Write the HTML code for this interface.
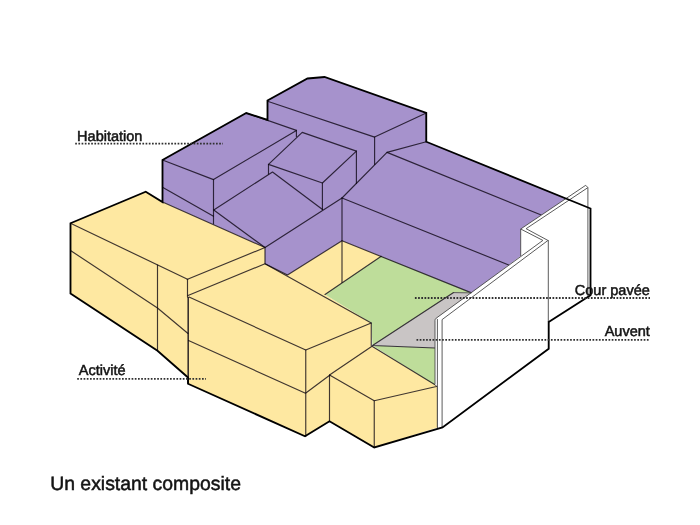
<!DOCTYPE html>
<html lang="fr">
<head>
<meta charset="utf-8">
<title>Un existant composite</title>
<style>
html,body{margin:0;padding:0;background:#fff;}
body{width:700px;height:525px;overflow:hidden;}
svg{display:block;}
text{font-family:"Liberation Sans",Arial,sans-serif;fill:#141414;stroke:#141414;stroke-width:0.5;text-rendering:geometricPrecision;}
.t{stroke:#0a0410;stroke-opacity:.78;stroke-width:1.15;fill:none;stroke-linejoin:round;stroke-linecap:round;}
.k{stroke:#000;stroke-width:1.85;fill:none;stroke-linejoin:miter;stroke-linecap:butt;}
.w{stroke:#4a4a4a;stroke-width:0.9;fill:none;stroke-linejoin:round;}
.d{stroke:#303030;stroke-width:1.8;stroke-dasharray:1.7 1.5;fill:none;}
</style>
</head>
<body>
<svg width="700" height="525" viewBox="0 0 700 525">
<rect width="700" height="525" fill="#fff"/>

<!-- fills -->
<g id="fills" stroke="none">
<polygon fill="#a692cc" points="162.5,160 246.25,113 267.5,120 267.5,100.5 307.5,78.5 324.5,77 426.25,113 426.25,141.75 567.5,198.75 520.7,229.5 520.7,256 471.5,292.9 342,240.75 287.5,275 265,263.75 265,247.5 162.5,202"/>
<polygon fill="#fee8a1" points="70.5,223.25 145.75,191.75 162.5,202 265,247.5 265,263.75 287.5,275 342,240.75 381.25,256.25 325,294.5 371.25,323 371.25,345.5 437.5,386.25 437.5,427.5 374.25,447.5 329.5,421.25 305,436.25 188,383.75 188,377.5 157.5,350.75 70.5,293.5"/>
<polygon fill="#bedd9a" points="381.25,256.25 471.5,292.9 453.6,292.6 372.5,345.5 371.25,323 325,294.5"/>
<polygon fill="#bedd9a" points="372.5,345.5 435,348 435,385"/>
<polygon fill="#c9c5c5" points="372.5,345.5 453.6,292.6 471.5,292.9 435.5,319 435,348"/>
</g>

<!-- thin lines -->
<g id="thin" class="t">
<!-- purple A -->
<path d="M162.5,160 L213.5,179.6 L296.4,130.4 L246.25,113"/>
<path d="M213.5,179.6 V223.75"/>
<path d="M162.5,187.2 L213.5,216.25"/>
<path d="M296.4,130.4 V136.5"/>
<!-- purple C -->
<path d="M268.5,164.4 L302.2,132.4 L356.4,151.1 L322.4,183 Z"/>
<path d="M268.5,164.4 V174"/>
<path d="M322.4,183 V209.5"/>
<path d="M356.4,151.1 V183.5"/>
<!-- purple D -->
<path d="M213.75,210 L272.5,172 L322.5,209.5"/>
<path d="M213.75,210 L265,247.5 L342,198"/>
<!-- purple B -->
<path d="M267.5,101.25 L374.6,137.1 L426.25,113"/>
<path d="M374.6,137.1 V164.5"/>
<!-- roof E -->
<path d="M342,198 L387,152.4 L426.25,141.75"/>
<path d="M387,152.4 L541.25,215"/>
<path d="M342,198 L508.75,265"/>
<path d="M342,240.75 L471.5,292.9"/>
<path d="M342,198 V282.5"/>
<!-- purple bottom boundary -->
<path d="M162.5,202 L265,247.5 V263.75 L287.5,275 L342,240.75"/>
<!-- court -->
<path d="M381.25,256.25 L325,294.5"/>
<path d="M453.6,292.6 L372.5,345.5 L435,348"/>
<!-- yellow 1 -->
<path d="M70.5,223.25 L187.5,279.25 L265,247.5"/>
<path d="M187.5,279.25 V297"/>
<path d="M157.5,265 V350.75"/>
<path d="M70.5,250.5 L157.5,308 L188,333.5"/>
<!-- yellow 2 -->
<path d="M188,295.5 L265,263.75 L371.25,323 L305.75,350 L189,297"/>
<path d="M305.75,350 V436.25"/>
<path d="M188.5,340.5 L305.5,393.25 L330,375"/>
<path d="M371.25,323 V345.5"/>
<!-- yellow 3 -->
<path d="M329.5,375 L372,346.25 L437.5,386.25 L374.25,400.75 Z"/>
<path d="M374.25,400.75 V447.5"/>
<path d="M329.5,375 V421.25"/>
<path d="M437.5,386.25 V427.5"/>
</g>
<path d="M188.2,297 V383" stroke="#0a0410" stroke-opacity=".8" stroke-width="1.6" fill="none"/>

<!-- wall -->
<g id="wall">
<polygon fill="#fff" stroke="none" points="435,319.5 544.3,240 548.75,240 548.75,348.75 442.5,427.5 437.5,427.5 437.5,386.25 435,384.7"/>
<polygon fill="#fff" stroke="none" points="520.7,229 544.3,239.5 548.75,322 590,296 590,208 585.7,185.3"/>
<g class="w">
<path d="M453.6,292.6 L471.5,292.9"/>
<path d="M585.7,185.3 L520.7,229 V256"/>
<path d="M587.9,187.6 L526.1,228.7 L547.9,240.4"/>
<path d="M585.7,185.3 L587.9,187.6 V296"/>
<path d="M520.7,229 L542.9,240.4"/>
<path d="M542.9,240.4 L436.2,318.2 Q435,319 435,320.5 V384.5"/>
<path d="M547.9,240.5 L442.1,319.6 V427.5"/>
<path d="M437.4,319 V427.5"/>
<path d="M548.3,240 V322"/>
</g>
</g>

<!-- thick outline -->
<path class="k" d="M70.5,223.25 L145.75,191.75 L162.5,202 V160 L246.25,113 L267.5,120 V100.5 L307.5,78.5 L324.5,77 L426.25,113 V141.75 L590.5,208.5 V295.3 L548.7,322 V348.75 L442.5,427.5 L374.25,447.5 L329.5,421.25 L305,436.25 L188,383.75 V377.5 L157.5,350.75 L70.5,293.5 Z"/>

<!-- dotted leaders -->
<path class="d" d="M75.2,143.6 H223"/>
<path class="d" d="M77.2,378.8 H206"/>
<path class="d" d="M414.9,298 H650"/>
<path class="d" d="M416.5,339.8 H650"/>

<!-- labels -->
<g id="labels" style="filter:grayscale(1)">
<text x="77.1" y="141.2" font-size="14.5">Habitation</text>
<text x="78.8" y="375" font-size="14.5">Activité</text>
<text x="649.8" y="294.6" font-size="14.5" text-anchor="end">Cour pavée</text>
<text x="649.8" y="335.5" font-size="14.5" text-anchor="end">Auvent</text>
<text x="50.2" y="490" font-size="19.4">Un existant composite</text>
</g>
</svg>
</body>
</html>
